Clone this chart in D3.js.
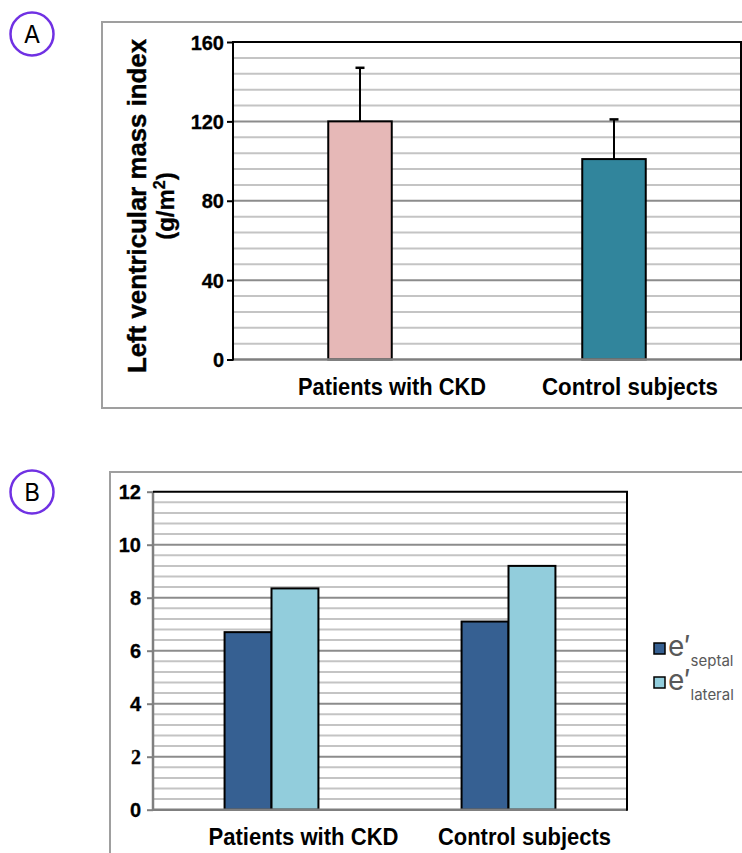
<!DOCTYPE html>
<html>
<head>
<meta charset="utf-8">
<script src="https://cdn.jsdelivr.net/npm/d3@7"></script>
<style>
  body { margin: 0; background: #fff; }
  svg { display: block; }
  text { font-family: "Liberation Sans", Arial, sans-serif; }
</style>
</head>
<body>
<script>
(function(){

// data
var groups = ["Patients with CKD", "Control subjects"];

// panel A: left ventricular mass index
var lvmiMean = [120, 101];
var lvmiSD = [27, 20];
var lvmiColors = ["#e6b8b7", "#31859c"];
var lvmiTicks = [0, 40, 80, 120, 160];

// panel B: e' velocities
var series = ["septal", "lateral"];
var septal = [6.7, 7.1];
var lateral = [8.35, 9.2];
var seriesColors = ["#366092", "#92cddc"];
var eTicks = [0, 2, 4, 6, 8, 10, 12];

// canvas
var width = 742, height = 853;
var svg = d3.select("body").append("svg")
    .attr("width", width)
    .attr("height", height);

// small nudge of category labels (they sit right of the bar centres)
var labelShift = [32, 16];

// panel letter in a circle
function panelLetter(cx, cy, letter){
    svg.append("circle")
        .attr("cx", cx).attr("cy", cy).attr("r", 21.5)
        .attr("fill", "none")
        .attr("stroke", "#7031e3")
        .attr("stroke-width", 2.5);
    svg.append("text")
        .attr("x", cx).attr("y", cy + 8.5)
        .attr("text-anchor", "middle")
        .style("font-family", "Inter, sans-serif")
        .style("font-size", "24px")
        .text(letter);
};

// horizontal grid: minor light, major darker
function drawGrid(g, y, x0, x1, maxVal, step, majorStep){
    var minor = d3.range(0, maxVal + 1e-9, step).filter(function(v){
        return Math.abs(v / majorStep - Math.round(v / majorStep)) > 1e-6;
    });
    g.selectAll(".minor")
        .data(minor)
        .enter().append("line")
        .attr("x1", x0).attr("x2", x1)
        .attr("y1", function(d){ return y(d); })
        .attr("y2", function(d){ return y(d); })
        .attr("stroke", "#c4c4c4")
        .attr("stroke-width", 2);
    var major = d3.range(majorStep, maxVal, majorStep);
    g.selectAll(".major")
        .data(major)
        .enter().append("line")
        .attr("x1", x0).attr("x2", x1)
        .attr("y1", function(d){ return y(d); })
        .attr("y2", function(d){ return y(d); })
        .attr("stroke", "#8c8c8c")
        .attr("stroke-width", 2);
};

// ---------------- Panel A ----------------
panelLetter(32, 34, "A");

svg.append("rect")
    .attr("x", 102).attr("y", 22)
    .attr("width", 700).attr("height", 386)
    .attr("fill", "none")
    .attr("stroke", "#9f9f9f")
    .attr("stroke-width", 2);

var aLeft = 233, aRight = 741, aTop = 42, aBottom = 359.5;

var xA = d3.scaleBand()
    .domain(groups)
    .range([aLeft, aRight]);

var yA = d3.scaleLinear()
    .domain([0, 160])
    .range([aBottom, aTop]);

var gA = svg.append("g");
drawGrid(gA, yA, aLeft, aRight, 160, 8, 40);

// bars
var barWA = xA.bandwidth() * 0.25;
gA.selectAll(".barA")
    .data(groups)
    .enter().append("rect")
    .attr("x", function(d){ return xA(d) + xA.bandwidth() / 2 - barWA / 2; })
    .attr("y", function(d, i){ return yA(lvmiMean[i]); })
    .attr("width", barWA)
    .attr("height", function(d, i){ return yA(0) - yA(lvmiMean[i]); })
    .attr("fill", function(d, i){ return lvmiColors[i]; })
    .attr("stroke", "#000")
    .attr("stroke-width", 2);

// error bars (upper only)
gA.selectAll(".errA")
    .data(groups)
    .enter().append("line")
    .attr("x1", function(d){ return xA(d) + xA.bandwidth() / 2; })
    .attr("x2", function(d){ return xA(d) + xA.bandwidth() / 2; })
    .attr("y1", function(d, i){ return yA(lvmiMean[i]); })
    .attr("y2", function(d, i){ return yA(lvmiMean[i] + lvmiSD[i]); })
    .attr("stroke", "#000")
    .attr("stroke-width", 2);
gA.selectAll(".capA")
    .data(groups)
    .enter().append("line")
    .attr("x1", function(d){ return xA(d) + xA.bandwidth() / 2 - 4.5; })
    .attr("x2", function(d){ return xA(d) + xA.bandwidth() / 2 + 4.5; })
    .attr("y1", function(d, i){ return yA(lvmiMean[i] + lvmiSD[i]); })
    .attr("y2", function(d, i){ return yA(lvmiMean[i] + lvmiSD[i]); })
    .attr("stroke", "#000")
    .attr("stroke-width", 2.5);

// frame: bottom gray, others black
gA.append("line")
    .attr("x1", aLeft).attr("x2", aRight)
    .attr("y1", aBottom).attr("y2", aBottom)
    .attr("stroke", "#7f7f7f").attr("stroke-width", 2.5);
gA.append("path")
    .attr("d", "M" + aLeft + "," + (aBottom + 1) + "V" + aTop + "H" + aRight + "V" + (aBottom + 1))
    .attr("fill", "none")
    .attr("stroke", "#000")
    .attr("stroke-width", 2);

// y axis ticks
var axisA = d3.axisLeft(yA)
    .tickValues(lvmiTicks)
    .tickSize(6)
    .tickPadding(3);
var axA = svg.append("g")
    .attr("transform", "translate(" + aLeft + ",0)")
    .attr("font-size", 20)
    .call(axisA);
axA.attr("font-size", 20).attr("font-family", "'Liberation Sans', Arial, sans-serif");
axA.select(".domain").remove();
axA.selectAll(".tick line").attr("stroke", "#000").attr("stroke-width", 2);
axA.selectAll(".tick text")
    .attr("fill", "#000")
    .attr("dy", "0.36em")
    .attr("stroke", "#000")
    .attr("stroke-width", 0.3)
    .style("font-size", "20px")
    .style("font-weight", "bold");

// y title
var titleA = svg.append("text")
    .attr("transform", "translate(146,206) rotate(-90)")
    .attr("text-anchor", "middle")
    .style("font-size", "26px")
    .style("font-weight", "bold")
    .attr("stroke", "#000")
    .attr("stroke-width", 0.4)
    .attr("textLength", 334)
    .attr("lengthAdjust", "spacingAndGlyphs")
    .text("Left ventricular mass index");
var unitA = svg.append("text")
    .attr("transform", "translate(174,206) rotate(-90)")
    .attr("text-anchor", "middle")
    .style("font-size", "24px")
    .style("font-weight", "bold")
    .attr("stroke", "#000")
    .attr("stroke-width", 0.3);
unitA.append("tspan").text("(g/m");
unitA.append("tspan").attr("dy", -9).style("font-size", "16px").text("2");
unitA.append("tspan").attr("dy", 9).text(")");

// category labels
svg.selectAll(".labA")
    .data(groups)
    .enter().append("text")
    .attr("x", function(d, i){ return xA(d) + xA.bandwidth() / 2 + labelShift[i]; })
    .attr("y", 395)
    .attr("text-anchor", "middle")
    .style("font-size", "23px")
    .style("font-weight", "bold")
    .attr("textLength", function(d, i){ return i === 0 ? 188 : 176; })
    .attr("lengthAdjust", "spacingAndGlyphs")
    .text(function(d){ return d; });

// ---------------- Panel B ----------------
panelLetter(32, 492, "B");

svg.append("rect")
    .attr("x", 110).attr("y", 472)
    .attr("width", 700).attr("height", 420)
    .attr("fill", "none")
    .attr("stroke", "#9f9f9f")
    .attr("stroke-width", 2);

var bLeft = 153, bRight = 627, bTop = 491.7, bBottom = 809.7;

var xB = d3.scaleBand()
    .domain(groups)
    .range([bLeft, bRight]);

var yB = d3.scaleLinear()
    .domain([0, 12])
    .range([bBottom, bTop]);

var barWB = xB.bandwidth() * 0.198;
var xInner = d3.scaleBand()
    .domain(series)
    .range([0, barWB * 2]);

var gB = svg.append("g");
drawGrid(gB, yB, bLeft, bRight, 12, 0.4, 2);

var values = { septal: septal, lateral: lateral };
var groupG = gB.selectAll(".grp")
    .data(groups)
    .enter().append("g")
    .attr("transform", function(d){
        return "translate(" + (xB(d) + xB.bandwidth() / 2 - barWB) + ",0)";
    });
groupG.selectAll("rect")
    .data(function(d, gi){
        return series.map(function(s, si){ return { s: s, v: values[s][gi], c: seriesColors[si] }; });
    })
    .enter().append("rect")
    .attr("x", function(d){ return xInner(d.s); })
    .attr("y", function(d){ return yB(d.v); })
    .attr("width", xInner.bandwidth())
    .attr("height", function(d){ return yB(0) - yB(d.v); })
    .attr("fill", function(d){ return d.c; })
    .attr("stroke", "#000")
    .attr("stroke-width", 2);

// frame: left and bottom gray, top and right black
gB.append("line")
    .attr("x1", bLeft).attr("x2", bRight)
    .attr("y1", bBottom).attr("y2", bBottom)
    .attr("stroke", "#7f7f7f").attr("stroke-width", 2.5);
gB.append("line")
    .attr("x1", bLeft).attr("x2", bLeft)
    .attr("y1", bTop).attr("y2", bBottom + 1)
    .attr("stroke", "#7f7f7f").attr("stroke-width", 2.5);
gB.append("path")
    .attr("d", "M" + bLeft + "," + bTop + "H" + bRight + "V" + (bBottom + 1))
    .attr("fill", "none")
    .attr("stroke", "#000")
    .attr("stroke-width", 2);

var axisB = d3.axisLeft(yB)
    .tickValues(eTicks)
    .tickSize(6)
    .tickPadding(6);
var axB = svg.append("g")
    .attr("transform", "translate(" + bLeft + ",0)")
    .call(axisB);
axB.attr("font-size", 20).attr("font-family", "'Liberation Sans', Arial, sans-serif");
axB.select(".domain").remove();
axB.selectAll(".tick line").attr("stroke", "#7f7f7f").attr("stroke-width", 2);
axB.selectAll(".tick text")
    .attr("fill", "#000")
    .attr("dy", "0.36em")
    .attr("stroke", "#000")
    .attr("stroke-width", 0.3)
    .style("font-size", "20px")
    .style("font-weight", "bold")
    .style("font-family", function(d){
        return d === 2 ? "'Liberation Serif', serif" : "'Liberation Sans', Arial, sans-serif";
    });

svg.selectAll(".labB")
    .data(groups)
    .enter().append("text")
    .attr("x", function(d, i){ return xB(d) + xB.bandwidth() / 2 + labelShift[i]; })
    .attr("y", 845)
    .attr("text-anchor", "middle")
    .style("font-size", "23px")
    .style("font-weight", "bold")
    .attr("textLength", function(d, i){ return i === 0 ? 190 : 173; })
    .attr("lengthAdjust", "spacingAndGlyphs")
    .text(function(d){ return d; });

// legend
var legend = svg.selectAll(".leg")
    .data(series)
    .enter().append("g")
    .attr("transform", function(d, i){ return "translate(654," + (643 + i * 34) + ")"; });
legend.append("rect")
    .attr("width", 11).attr("height", 11)
    .attr("fill", function(d, i){ return seriesColors[i]; })
    .attr("stroke", "#000")
    .attr("stroke-width", 1.5);
var legText = legend.append("text")
    .attr("x", 14).attr("y", 13)
    .attr("fill", "#595959")
    .style("font-family", "Inter, 'Liberation Sans', sans-serif")
    .style("font-size", "28px");
legText.append("tspan").text("e\u2032");
legText.append("tspan")
    .attr("dy", 10)
    .style("font-size", "15px")
    .text(function(d){ return d; });

})();
</script>
</body>
</html>
